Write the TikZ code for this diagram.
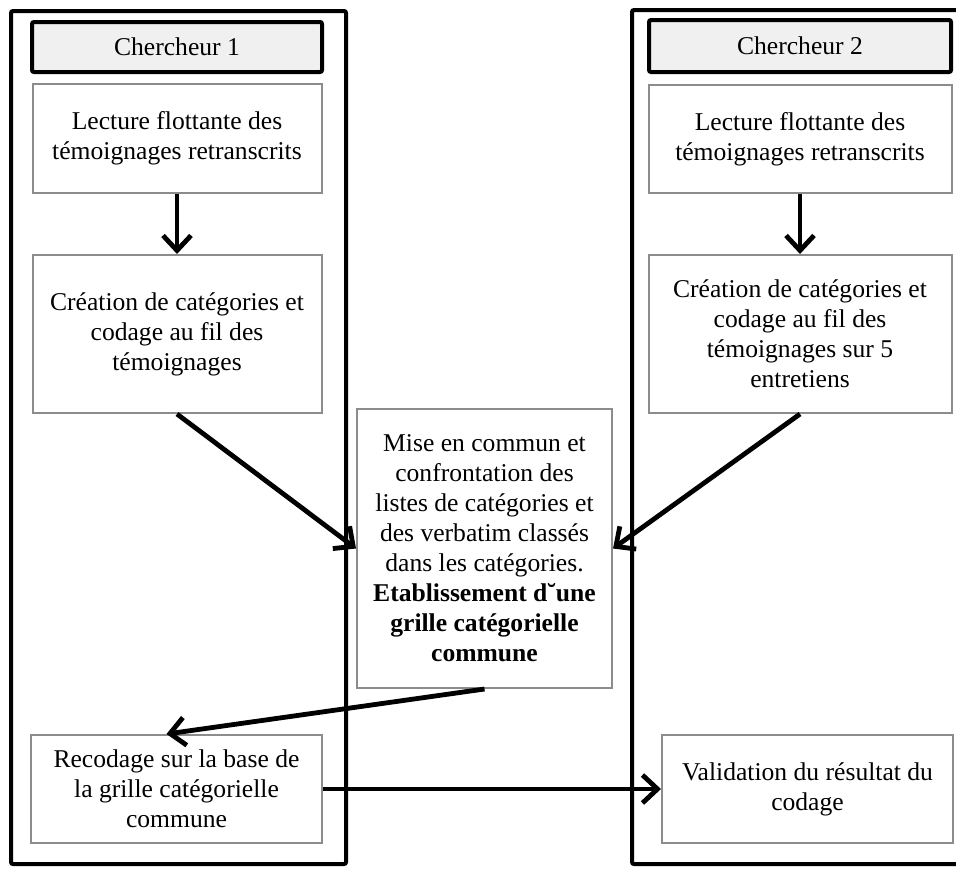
\documentclass[tikz,border=0pt]{standalone}
\usepackage{fontspec}
\setmainfont{Liberation Serif}
\usepackage{xcolor}
\usetikzlibrary{arrows.meta,positioning}
\definecolor{headgray}{HTML}{F0F0F0}
\definecolor{boxgray}{HTML}{8C8C8C}

\begin{document}
\begin{tikzpicture}[x = 0.5pt, y = -0.5pt,
		head_node/.style = {rectangle, draw, line width = 2pt, fill = headgray, rounded corners = 1pt, inner sep = 0pt, font = \fontsize{12.8}{15}\selectfont},
		gray_node/.style = {rectangle, draw = boxgray, line width = 1pt, fill = white, align = center, inner sep = 0pt, font = \fontsize{12.8}{15}\selectfont},
		frame/.style = {line width = 2pt, rounded corners = 1pt},
		flow/.style = {line width = 2.4pt, -{Straight Barb[length = 7.5pt, width = 14pt]}},
		]
		\useasboundingbox (0,0) rectangle (956,868);
		
		%frames
		\draw[frame] (11,11) rectangle (346,864);
		\draw[frame] (632,10) rectangle (980,864);
		
		%chercheur 1
		\node[head_node, minimum width = 145pt, minimum height = 25pt] (head1) at (177,47) {Chercheur 1};
		\node[gray_node, below = 4.5pt of head1, minimum width = 144.5pt, minimum height = 54.5pt] (lec1) {Lecture flottante des\\témoignages retranscrits};
		\node[gray_node, below = 30pt of lec1, minimum width = 144.5pt, minimum height = 79pt] (cre1) {Création de catégories et\\codage au fil des\\témoignages};
		
		%chercheur 2
		\node[head_node, minimum width = 151pt, minimum height = 26pt] (head2) at (800,46) {Chercheur 2};
		\node[gray_node, below = 5pt of head2, minimum width = 151.5pt, minimum height = 54pt] (lec2) {Lecture flottante des\\témoignages retranscrits};
		\node[gray_node, below = 30pt of lec2, minimum width = 151.5pt, minimum height = 79pt] (cre2) {Création de catégories et\\codage au fil des\\témoignages sur 5\\entretiens};
		
		%commun
		\node[gray_node, minimum width = 127.5pt, minimum height = 139.5pt] (mid) at (484.5,548.5) {Mise en commun et\\confrontation des\\listes de catégories et\\des verbatim classés\\dans les catégories.\\\textbf{Etablissement d˘une}\\\textbf{grille catégorielle}\\\textbf{commune}};
		
		%recodage
		\node[gray_node, minimum width = 145.5pt, minimum height = 54pt] (rec) at (176.5,789) {Recodage sur la base de\\la grille catégorielle\\commune};
		\node[gray_node, right = 169pt of rec, minimum width = 145.5pt, minimum height = 54pt] (val) {Validation du résultat du\\codage};
		
		\draw[flow] (lec1.south) -- (cre1.north);
		\draw[flow] (lec2.south) -- (cre2.north);
		\draw[flow] (cre1.south) -- (mid.west);
		\draw[flow] (cre2.south) -- (mid.east);
		\draw[flow] (mid.south) -- ([xshift = -5pt]rec.north);
		\draw[flow] (rec.east) -- (val.west);

\end{tikzpicture}
\end{document}
